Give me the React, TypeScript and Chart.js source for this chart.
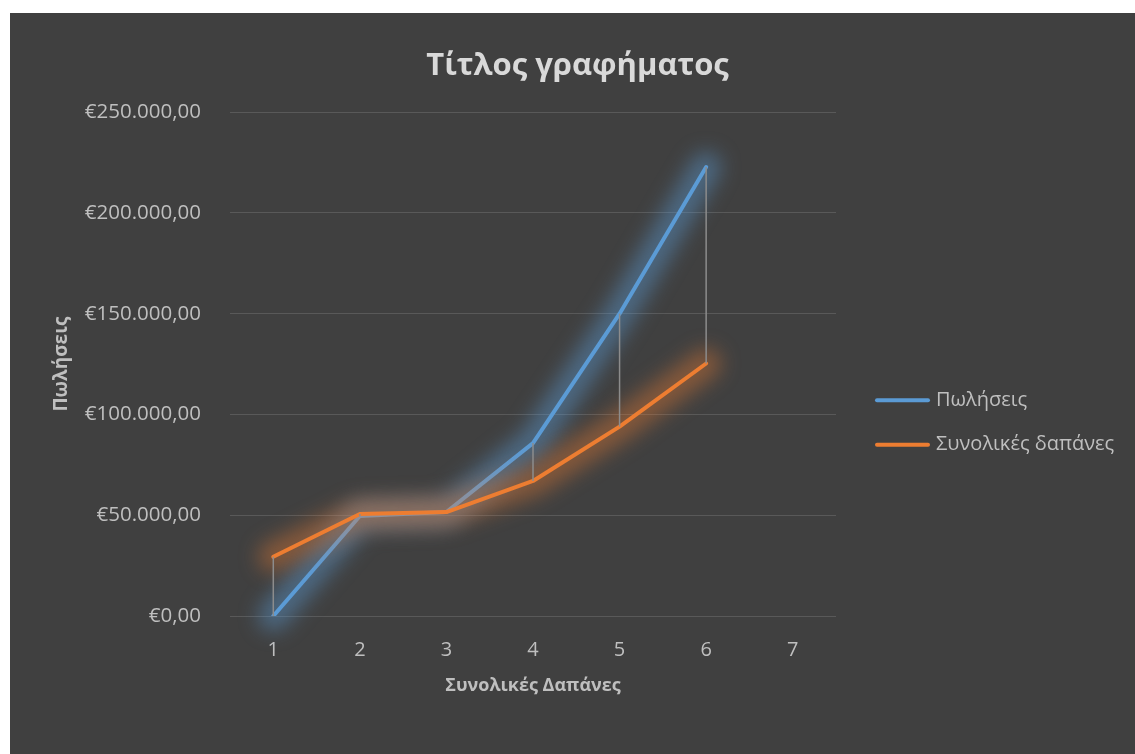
import React, { useEffect, useRef } from "react";
import { Chart, registerables } from "chart.js";

Chart.register(...registerables);

// Category labels on the horizontal axis
const categories = ["1", "2", "3", "4", "5", "6", "7"];
// Πωλήσεις (sales) per category
const salesValues = [0, 49600, 51600, 85800, 150000, 222800];
// Συνολικές δαπάνες (total costs) per category
const costValues = [29400, 50600, 51600, 67000, 94000, 125300];
// Value axis range and step
const yMin = 0;
const yMax = 250000;
const yStep = 50000;

const FONT = "'Open Sans', 'Noto Sans', sans-serif";
const TEXT = "#bfbfbf";

// Euro with Greek-style separators, e.g. €250.000,00
function formatEuro(v: number): string {
  const whole = Math.round(v).toString().replace(/\B(?=(\d{3})+(?!\d))/g, ".");
  return "€" + whole + ",00";
}

// Soft coloured halo under each series line, traced through the plotted points
const glowPlugin = {
  id: "seriesGlow",
  beforeDatasetDraw(chart: any, args: any) {
    const ds: any = chart.data.datasets[args.index];
    const pts = chart.getDatasetMeta(args.index).data;
    if (!pts.length) return;
    const ctx = chart.ctx;
    ctx.save();
    ctx.filter = "blur(10px)";
    ctx.strokeStyle = ds.glowColor;
    ctx.lineWidth = 30;
    ctx.lineJoin = "round";
    ctx.lineCap = "round";
    ctx.beginPath();
    pts.forEach((p: any, i: number) => (i ? ctx.lineTo(p.x, p.y) : ctx.moveTo(p.x, p.y)));
    ctx.stroke();
    ctx.restore();
  },
};

// Vertical high-low connectors between the two series at each category
const hiLoPlugin = {
  id: "hiLoLines",
  afterDatasetsDraw(chart: any) {
    const a = chart.getDatasetMeta(0).data;
    const b = chart.getDatasetMeta(1).data;
    const ctx = chart.ctx;
    ctx.save();
    ctx.strokeStyle = "#8c8c8c";
    ctx.lineWidth = 1.5;
    const n = Math.min(a.length, b.length);
    for (let i = 0; i < n; i++) {
      ctx.beginPath();
      ctx.moveTo(a[i].x, a[i].y);
      ctx.lineTo(b[i].x, b[i].y);
      ctx.stroke();
    }
    ctx.restore();
  },
};

// Line-sample legend to the right of the plot
const sideLegendPlugin = {
  id: "sideLegend",
  afterDraw(chart: any) {
    const ctx = chart.ctx;
    const area = chart.chartArea;
    const x0 = area.right + 39;
    const y0 = area.top + 288;
    ctx.save();
    ctx.font = `20px ${FONT}`;
    ctx.textBaseline = "middle";
    ctx.textAlign = "left";
    chart.data.datasets.forEach((ds: any, i: number) => {
      const y = y0 + i * 44.5;
      ctx.strokeStyle = ds.borderColor;
      ctx.lineWidth = 4;
      ctx.lineCap = "round";
      ctx.beginPath();
      ctx.moveTo(x0 + 2, y);
      ctx.lineTo(x0 + 53, y);
      ctx.stroke();
      ctx.fillStyle = TEXT;
      ctx.fillText(ds.label, x0 + 61, y);
    });
    ctx.restore();
  },
};

export default function App() {
  const ref = useRef<HTMLCanvasElement | null>(null);

  useEffect(() => {
    if (!ref.current) return;
    const chart = new Chart(ref.current, {
      type: "line",
      data: {
        labels: categories,
        datasets: [
          {
            label: "Πωλήσεις",
            data: salesValues,
            borderColor: "#5b9bd5",
            glowColor: "rgba(91,155,213,0.45)",
            borderWidth: 4,
            pointRadius: 0,
            borderJoinStyle: "round",
            borderCapStyle: "round",
            tension: 0,
            order: 1,
          } as any,
          {
            label: "Συνολικές δαπάνες",
            data: costValues,
            borderColor: "#ed7d31",
            glowColor: "rgba(237,125,49,0.4)",
            borderWidth: 4,
            pointRadius: 0,
            borderJoinStyle: "round",
            borderCapStyle: "round",
            tension: 0,
            order: 0,
          } as any,
        ],
      },
      options: {
        animation: false,
        responsive: true,
        maintainAspectRatio: false,
        layout: { padding: { left: 10, right: 0, top: 0, bottom: 0 } },
        plugins: {
          legend: { display: false },
          tooltip: { enabled: false },
          title: {
            display: true,
            text: "Τίτλος γραφήματος",
            color: "#d9d9d9",
            font: { family: FONT, size: 31, weight: "bold" },
            padding: { top: 35, bottom: 27 },
          },
        },
        scales: {
          x: {
            type: "category",
            offset: true,
            grid: { display: false },
            border: { display: false },
            ticks: { color: TEXT, font: { family: FONT, size: 20 }, padding: 14, maxRotation: 0 },
            title: {
              display: true,
              text: "Συνολικές Δαπάνες",
              color: TEXT,
              font: { family: FONT, size: 18, weight: "bold" },
              padding: { top: 0, bottom: 57 },
            },
            afterFit(scale: any) {
              scale.height = 138;
            },
          },
          y: {
            min: yMin,
            max: yMax,
            ticks: {
              stepSize: yStep,
              color: TEXT,
              font: { family: FONT, size: 20.5 },
              padding: 29,
              callback: (v: any) => formatEuro(Number(v)),
            },
            grid: { color: "#595959", lineWidth: 1, drawTicks: false },
            border: { display: false },
            title: {
              display: true,
              text: "Πωλήσεις",
              color: TEXT,
              font: { family: FONT, size: 19, weight: "bold" },
              padding: { top: 30, bottom: 0 },
            },
            afterFit(scale: any) {
              scale.width = 210;
            },
          },
          // Empty right-hand band that holds the legend area
          legendBand: {
            type: "linear",
            position: "right",
            display: true,
            grid: { display: false, drawOnChartArea: false },
            border: { display: false },
            ticks: { display: false },
            afterFit(scale: any) {
              scale.width = 299;
            },
          },
        },
      } as any,
      plugins: [glowPlugin, hiLoPlugin, sideLegendPlugin],
    });
    return () => chart.destroy();
  }, []);

  return (
    <div
      style={{
        position: "fixed",
        left: 10,
        top: 13,
        width: 1125,
        height: 741,
        background: "#404040",
      }}
    >
      <canvas ref={ref} />
    </div>
  );
}
